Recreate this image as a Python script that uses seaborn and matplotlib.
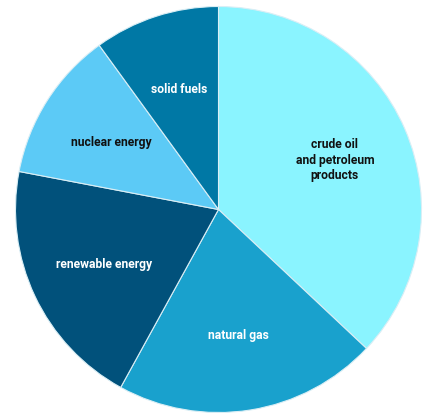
import matplotlib
matplotlib.use("Agg")
import matplotlib.pyplot as plt
import seaborn as sns

categories = ["crude oil\nand petroleum\nproducts", "natural gas", "renewable energy",
              "nuclear energy", "solid fuels"]
values = [37, 21, 20, 12, 10]
colors = ["#8af4ff", "#19a1cd", "#01517b", "#5ccaf6", "#0078a5"]
label_colors = ["#111111", "white", "white", "#111111", "white"]

sns.set_style("white")
plt.rcParams['font.family'] = ['Roboto', 'DejaVu Sans']

fig = plt.figure(figsize=(4.38, 4.14), dpi=100)
ax = fig.add_axes([15.5 / 438, 0.5 / 414, 406 / 438, 406 / 414])
palette = sns.color_palette(colors)
wedges, texts = ax.pie(values, labels=categories, colors=palette, startangle=90,
                       counterclock=False, labeldistance=0.625, radius=1,
                       wedgeprops=dict(edgecolor="#d9eef5", linewidth=0.8),
                       textprops=dict(ha="center", va="center", fontsize=8.7,
                                      fontweight="bold", linespacing=1.25))
for t, c in zip(texts, label_colors):
    t.set_color(c)
ax.set_xlim(-1, 1)
ax.set_ylim(-1, 1)
ax.set_aspect("equal")
ax.axis("off")
fig.savefig("out.png", dpi=100)
